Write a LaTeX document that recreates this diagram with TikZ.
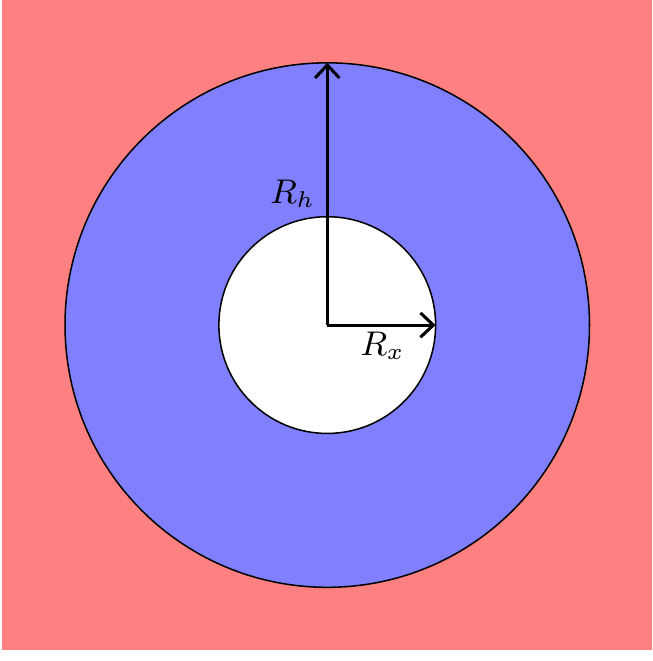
\documentclass[tikz,border=0pt]{standalone}
\usetikzlibrary{arrows.meta}
\begin{document}
\begin{tikzpicture}[
  lbl/.style={font=\fontsize{8.6}{10}\selectfont, inner sep=2pt},
  radius arrow/.style={-{Straight Barb[length=3.4pt,width=6.4pt]}, line width=0.8pt}
]
\useasboundingbox (-3.02,-3.10) rectangle (3.0,3.0);
\fill[red!50] (-3,-3) rectangle (3,3);
\draw[fill=blue!50] (0,0) circle (2.42);
\draw[fill=white] (0,0) circle (1.0);
\coordinate (O) at (0,0);
\coordinate (H) at (0,2.42);
\coordinate (X) at (1.0,0);
\draw[radius arrow] (O) -- (H);
\draw[radius arrow] (O) -- (X);
\node[lbl] (rh) at (-0.32,1.21) {$R_h$};
\node[lbl] (rx) at (0.51,-0.19) {$R_x$};
\end{tikzpicture}
\end{document}
